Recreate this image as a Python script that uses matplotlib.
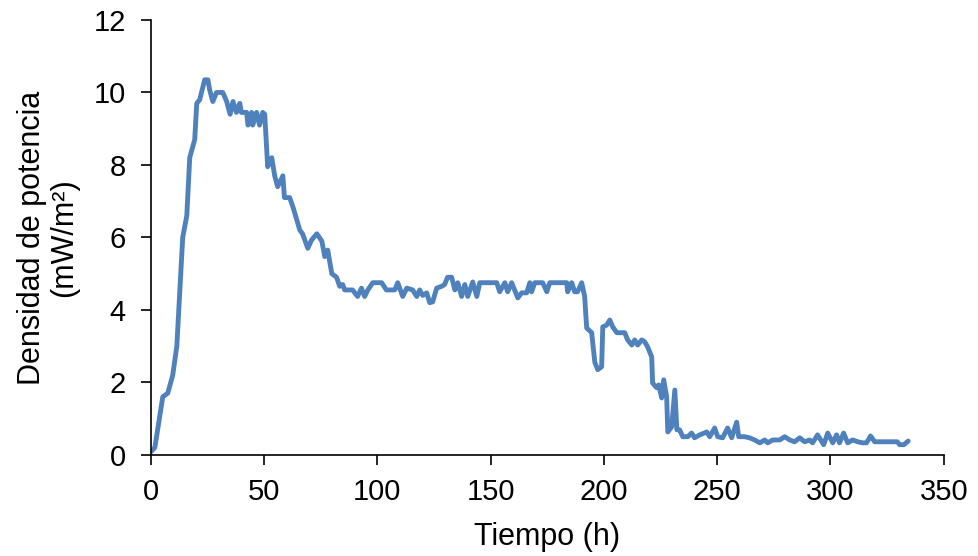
import matplotlib
matplotlib.use("Agg")
import matplotlib.pyplot as plt

plt.rcParams['font.family'] = ['Liberation Sans', 'DejaVu Sans']

tiempo_h = [0, 1.8, 5.3, 7.5, 9.7, 11.5, 12.8, 14.1, 15.9, 17.2, 19.4, 20.3, 21.6, 23.8, 25.2, 26, 27.4,
            29, 31.8, 33.5, 35, 36.3, 37.8, 39.3, 40, 42.3, 42.9, 44.5, 45, 46.7, 48, 49.4, 50.3,
            51.6, 53.4, 54.7, 56, 58.3, 59, 61.3, 62.7, 65.8, 67, 69.3, 71, 73.3, 75.5, 76.8, 78.1,
            79.9, 82, 83.4, 84.7, 85.6, 89.1, 91.3, 93, 94.4, 95.8, 98, 101.9, 104, 107.7, 109,
            111.2, 113, 115.6, 117.4, 118.7, 120, 121.8, 123.1, 124.4, 126.2, 128.4, 129.7, 131,
            132.8, 134.2, 135.5, 137.2, 138.6, 139.9, 142.1, 143.9, 145.2, 152.7, 154, 156.3, 157.5,
            159.3, 162, 163.7, 165.9, 167.3, 168.1, 169.5, 173, 174.8, 176.1, 183.6, 184, 185.8,
            187.1, 188.4, 190.2, 191.5, 192.4, 194.6, 196, 197.3, 199, 199.5, 201.2, 202.6, 203.9,
            205.7, 209.2, 210.5, 212.3, 213.6, 214.9, 216.7, 218, 219.3, 221.1, 221.5, 223.3, 224.2,
            225.5, 226.4, 227.7, 228.2, 229.9, 231.3, 232.2, 233.4, 234.8, 237, 238.7, 240, 242.3,
            245.4, 246.7, 248.9, 250.2, 252.4, 254.6, 256.4, 258.6, 259.5, 262.1, 264.3, 266.5,
            268.8, 271, 272.3, 274.5, 277.6, 279.8, 282, 284.2, 286.4, 288.6, 290.8, 292.1, 294.3,
            297, 298.8, 301, 302.7, 304, 305.8, 307.6, 309.8, 312, 314.2, 315.9, 317.7, 319.5,
            322.6, 329.5, 330.5, 332.4, 334.3]
densidad = [0.08, 0.2, 1.6, 1.7, 2.2, 3.0, 4.5, 6.0, 6.6, 8.2, 8.7, 9.7, 9.8, 10.35, 10.35, 10.07, 9.75,
            10.0, 10.0, 9.75, 9.4, 9.75, 9.45, 9.7, 9.45, 9.45, 9.1, 9.45, 9.1, 9.45, 9.1, 9.45, 9.4,
            7.95, 8.2, 7.7, 7.4, 7.7, 7.1, 7.1, 6.85, 6.2, 6.1, 5.7, 5.93, 6.1, 5.9, 5.47, 5.65,
            5.0, 4.9, 4.65, 4.7, 4.55, 4.55, 4.37, 4.6, 4.37, 4.55, 4.75, 4.75, 4.55, 4.55, 4.75,
            4.37, 4.6, 4.55, 4.37, 4.55, 4.4, 4.47, 4.2, 4.22, 4.6, 4.65, 4.7, 4.9,
            4.9, 4.55, 4.75, 4.37, 4.7, 4.37, 4.77, 4.37, 4.75, 4.75, 4.5, 4.75, 4.5,
            4.75, 4.33, 4.47, 4.47, 4.75, 4.5, 4.75, 4.75, 4.5, 4.75, 4.75, 4.5, 4.75,
            4.5, 4.5, 4.75, 4.37, 3.5, 3.37, 2.55, 2.35, 2.43, 3.53, 3.58, 3.72, 3.53,
            3.37, 3.37, 3.17, 3.03, 3.17, 3.03, 3.17, 3.12, 2.98, 2.7, 1.98, 1.85, 1.93,
            1.57, 2.07, 1.6, 0.63, 0.77, 1.79, 0.69, 0.69, 0.5, 0.5, 0.6, 0.47, 0.55,
            0.63, 0.5, 0.74, 0.5, 0.47, 0.74, 0.47, 0.9, 0.5, 0.5, 0.47, 0.41,
            0.33, 0.41, 0.33, 0.41, 0.41, 0.5, 0.41, 0.36, 0.47, 0.36, 0.41, 0.33, 0.55,
            0.28, 0.6, 0.33, 0.55, 0.33, 0.6, 0.33, 0.41, 0.36, 0.33, 0.33, 0.52, 0.36,
            0.36, 0.36, 0.28, 0.28, 0.38]

x_ticks = [0, 50, 100, 150, 200, 250, 300, 350]
y_ticks = [0, 2, 4, 6, 8, 10, 12]

fig = plt.figure(figsize=(9.79, 5.56), dpi=100)
ax = fig.add_axes([0.154, 0.182, 0.81, 0.782])
ax.plot(tiempo_h, densidad, color='#4F81BD', linewidth=3.5, solid_joinstyle='round',
        solid_capstyle='round')

ax.set_xlim(0, 350)
ax.set_ylim(0, 12)
ax.set_xticks(x_ticks)
ax.set_yticks(y_ticks)
ax.spines['top'].set_visible(False)
ax.spines['right'].set_visible(False)
for s in ('left', 'bottom'):
    ax.spines[s].set_linewidth(1.2)
    ax.spines[s].set_color('black')
ax.tick_params(axis='both', direction='out', length=7, width=1.2, labelsize=21)
ax.tick_params(axis='x', pad=10)
ax.tick_params(axis='y', pad=11)
ax.set_xlabel('Tiempo (h)', fontsize=22)
ax.set_ylabel('Densidad de potencia\n(mW/m²)', fontsize=22, linespacing=1.1)
ax.xaxis.set_label_coords(0.5, -0.155)
ax.yaxis.set_label_coords(-0.09, 0.5)

fig.savefig('out.png', dpi=100)
